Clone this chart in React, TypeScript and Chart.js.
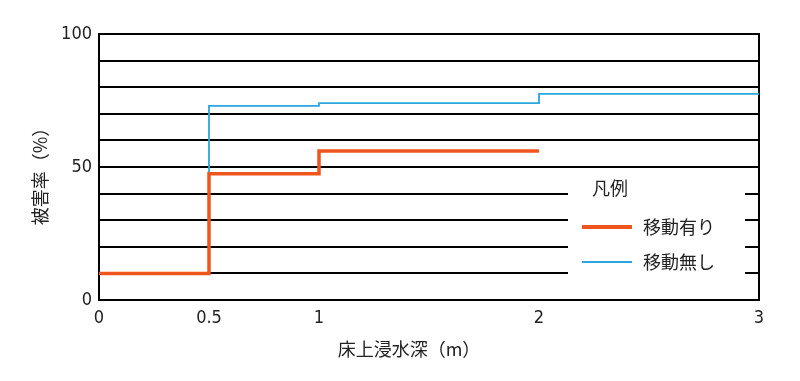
import React, { useEffect, useRef } from "react";
import { Chart, registerables } from "chart.js";

Chart.register(...registerables);

const xTicks = [0, 0.5, 1, 2, 3];
const withMoveX = [0, 0.5, 1, 2];
const withMoveY = [10, 47.5, 56, 56];
const noMoveX = [0, 0.5, 1, 2, 3];
const noMoveY = [10, 73, 74, 77.5, 77.5];

const seriesLabels = ["移動有り", "移動無し"];
const legendTitle = "凡例";
const xTitle = "床上浸水深（m）";
const yTitle = "被害率（%）";

const ORANGE = "#EE561E";
const BLUE = "#2AA6E0";
const TICK_FONT = "'Liberation Sans Narrow', 'DejaVu Sans Condensed', 'Noto Sans', sans-serif";
const CJK_FONT = "'Noto Sans CJK JP', sans-serif";

const decorPlugin = {
  id: "decor",
  beforeDatasetsDraw(chart: any) {
    const ctx = chart.ctx;
    const { top, bottom, right } = chart.chartArea;
    ctx.save();
    ctx.strokeStyle = "#000";
    ctx.lineWidth = 2;
    ctx.beginPath();
    ctx.moveTo(right, top - 1);
    ctx.lineTo(right, bottom + 1);
    ctx.stroke();
    ctx.fillStyle = "#fff";
    ctx.fillRect(568, 172, 177, 118);
    ctx.fillStyle = "#222";
    ctx.font = `18px ${CJK_FONT}`;
    ctx.textBaseline = "middle";
    ctx.textAlign = "left";
    ctx.fillText(legendTitle, 592, 188);
    const rows = [
      { y: 227, color: ORANGE, w: 4, label: seriesLabels[0] },
      { y: 262, color: BLUE, w: 1.8, label: seriesLabels[1] },
    ];
    rows.forEach((r) => {
      ctx.strokeStyle = r.color;
      ctx.lineWidth = r.w;
      ctx.beginPath();
      ctx.moveTo(582, r.y);
      ctx.lineTo(632, r.y);
      ctx.stroke();
      ctx.fillStyle = "#222";
      ctx.fillText(r.label, 643, r.y);
    });
    ctx.restore();
  },
  afterDraw(chart: any) {
    const ctx = chart.ctx;
    ctx.save();
    ctx.fillStyle = "#222";
    ctx.font = `18px ${CJK_FONT}`;
    ctx.textAlign = "center";
    ctx.textBaseline = "middle";
    ctx.fillText(xTitle, 409, 349);
    ctx.translate(40, 172);
    ctx.rotate(-Math.PI / 2);
    ctx.fillText(yTitle, 0, 0);
    ctx.restore();
  },
};

export default function App() {
  const ref = useRef<HTMLCanvasElement>(null);
  useEffect(() => {
    if (!ref.current) return;
    const chart = new Chart(ref.current, {
      type: "line",
      data: {
        datasets: [
          {
            label: seriesLabels[0],
            data: withMoveX.map((x, i) => ({ x, y: withMoveY[i] })),
            borderColor: ORANGE,
            borderWidth: 3.5,
            stepped: "before",
            pointRadius: 0,
            fill: false,
          },
          {
            label: seriesLabels[1],
            data: noMoveX.map((x, i) => ({ x, y: noMoveY[i] })),
            borderColor: BLUE,
            borderWidth: 1.8,
            stepped: "before",
            pointRadius: 0,
            fill: false,
          },
        ],
      },
      options: {
        animation: false,
        responsive: false,
        layout: { padding: { top: 34, right: 41, left: 0, bottom: 0 } },
        plugins: { legend: { display: false }, tooltip: { enabled: false } },
        scales: {
          x: {
            type: "linear",
            min: 0,
            max: 3,
            afterBuildTicks: (scale: any) => {
              scale.ticks = xTicks.map((v) => ({ value: v }));
            },
            afterFit: (scale: any) => {
              scale.height = 81;
            },
            grid: { display: false, drawTicks: false },
            border: { display: true, color: "#000", width: 2 },
            ticks: {
              color: "#222",
              font: { family: TICK_FONT, size: 18 },
              padding: 8,
              maxRotation: 0,
              autoSkip: false,
              callback: (v: any) => String(v),
            },
          },
          y: {
            min: 0,
            max: 100,
            afterFit: (scale: any) => {
              scale.width = 99;
            },
            grid: { color: "#000", lineWidth: 2, drawTicks: false },
            border: { display: true, color: "#000", width: 2 },
            ticks: {
              stepSize: 10,
              color: "#222",
              font: { family: TICK_FONT, size: 18 },
              padding: 7,
              callback: (v: any) => (Number(v) % 50 === 0 ? String(v) : ""),
            },
          },
        },
      },
      plugins: [decorPlugin],
    });
    return () => chart.destroy();
  }, []);
  return (
    <div style={{ position: "absolute", left: 0, top: 0, width: 800, height: 381, background: "#fff" }}>
      <canvas ref={ref} width={800} height={381} style={{ display: "block" }} />
    </div>
  );
}
